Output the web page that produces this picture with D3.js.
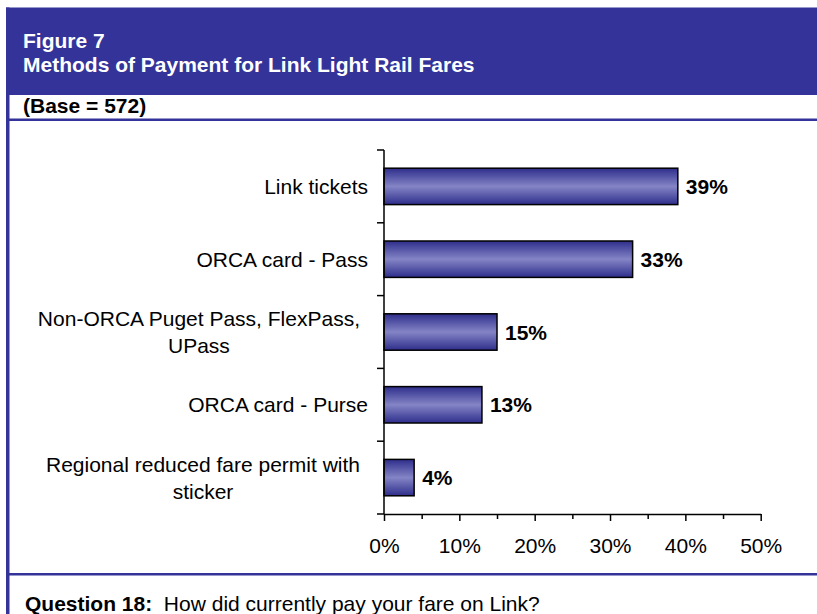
<!DOCTYPE html>
<html>
<head>
<meta charset="utf-8">
<script src="https://cdn.jsdelivr.net/npm/d3@7"></script>
<style>
  html, body { margin: 0; padding: 0; background: #fff; }
  svg { display: block; }
  text { font-family: "Liberation Sans", Arial, sans-serif; }
</style>
</head>
<body>
<script>
// ---- data ----
const categories = [
  "Link tickets",
  "ORCA card - Pass",
  "Non-ORCA Puget Pass, FlexPass,\nUPass",
  "ORCA card - Purse",
  "Regional reduced fare permit with\nsticker"
];
const values = [39, 33, 15, 13, 4];
const majorTicks = [0, 10, 20, 30, 40, 50];
const minorTicks = [5, 15, 25, 35, 45];
const titleLines = ["Figure 7", "Methods of Payment for Link Light Rail Fares"];
const baseText = "(Base = 572)";
const questionLabel = "Question 18:";
const questionText = "How did currently pay your fare on Link?";

// ---- drawing ----
const W = 817, H = 614;
const BLUE = "#333399";
const svg = d3.select("body").append("svg").attr("width", W).attr("height", H);

const defs = svg.append("defs");
const grad = defs.append("linearGradient").attr("id", "barGrad")
  .attr("x1", 0).attr("y1", 0).attr("x2", 0).attr("y2", 1);
grad.append("stop").attr("offset", "0%").attr("stop-color", "#2e2e8c");
grad.append("stop").attr("offset", "50%").attr("stop-color", "#8484c6");
grad.append("stop").attr("offset", "100%").attr("stop-color", "#2e2e8c");

// frame
svg.append("rect").attr("x", 6).attr("y", 7.5).attr("width", W - 6).attr("height", 87.5).attr("fill", BLUE);
svg.append("rect").attr("x", 6).attr("y", 7.5).attr("width", 3.5).attr("height", H - 7.5).attr("fill", BLUE);
svg.append("rect").attr("x", 6).attr("y", 118.5).attr("width", W - 6).attr("height", 2.5).attr("fill", BLUE);
svg.append("rect").attr("x", 6).attr("y", 573).attr("width", W - 6).attr("height", 2.5).attr("fill", BLUE);

// titles
titleLines.forEach((t, i) => {
  svg.append("text").attr("x", 23).attr("y", 48 + i * 24)
    .attr("fill", "#fff").attr("font-weight", "bold").attr("font-size", 21).text(t);
});
svg.append("text").attr("x", 23).attr("y", 113)
  .attr("fill", "#000").attr("font-weight", "bold").attr("font-size", 21).text(baseText);

const q = svg.append("text").attr("x", 25).attr("y", 611).attr("font-size", 21).attr("fill", "#000");
q.append("tspan").attr("font-weight", "bold").text(questionLabel);
q.append("tspan").text("\u00a0\u00a0" + questionText);

// scales
const x = d3.scaleLinear().domain([0, 50]).range([384, 760.7]);
const y = d3.scaleBand().domain(categories).range([150, 514]).paddingInner(0.5).paddingOuter(0.25);

// bars
svg.append("g").selectAll("rect").data(values).join("rect")
  .attr("x", x(0))
  .attr("y", (d, i) => y(categories[i]))
  .attr("width", d => x(d) - x(0))
  .attr("height", y.bandwidth())
  .attr("fill", "url(#barGrad)")
  .attr("stroke", "#000").attr("stroke-width", 1.5);

// value labels
svg.append("g").selectAll("text").data(values).join("text")
  .attr("x", d => x(d) + 8)
  .attr("y", (d, i) => y(categories[i]) + y.bandwidth() / 2)
  .attr("dy", "0.36em")
  .attr("font-weight", "bold").attr("font-size", 21).attr("fill", "#000")
  .text(d => d + "%");

// x axis
const xAxis = svg.append("g").attr("transform", `translate(0,514)`)
  .call(d3.axisBottom(x).tickValues(majorTicks).tickSize(7).tickSizeOuter(0).tickPadding(17)
    .tickFormat(d => d + "%"));
xAxis.selectAll("text").attr("font-size", 21).attr("fill", "#000")
  .attr("font-family", "'Liberation Sans', Arial, sans-serif");
xAxis.selectAll("line, path").attr("stroke", "#000").attr("stroke-width", 1.5);
const xMinor = svg.append("g").attr("transform", `translate(0,514)`)
  .call(d3.axisBottom(x).tickValues(minorTicks).tickSize(5).tickSizeOuter(0).tickFormat(""));
xMinor.select("path").remove();
xMinor.selectAll("line").attr("stroke", "#000").attr("stroke-width", 1.5);

// y axis (ticks at category boundaries)
const gap = (y.step() - y.bandwidth()) / 2;
const boundaries = categories.map(c => y(c) - gap).concat([y.range()[1]]);
const yAxis = svg.append("g");
yAxis.append("line").attr("x1", x(0)).attr("x2", x(0))
  .attr("y1", y.range()[0]).attr("y2", y.range()[1])
  .attr("stroke", "#000").attr("stroke-width", 1.5);
yAxis.selectAll("line.tick").data(boundaries).join("line").attr("class", "tick")
  .attr("x1", x(0) - 7).attr("x2", x(0))
  .attr("y1", d => d).attr("y2", d => d)
  .attr("stroke", "#000").attr("stroke-width", 1.5);

// category labels: block right-aligned, lines centred within block
const lineH = 27;
categories.forEach(c => {
  const lines = c.split("\n");
  const cy = y(c) + y.bandwidth() / 2;
  const g = svg.append("text").attr("font-size", 21).attr("fill", "#000").attr("text-anchor", "middle");
  const spans = lines.map((l, i) => g.append("tspan")
    .attr("y", cy - (lines.length - 1) * lineH / 2 + i * lineH + 0.36 * 21).text(l));
  const widths = spans.map(s => s.node().getComputedTextLength());
  const bw = Math.max(...widths);
  const right = lines.length > 1 ? 360 : 368;
  spans.forEach(s => s.attr("x", right - bw / 2));
});
</script>
</body>
</html>
